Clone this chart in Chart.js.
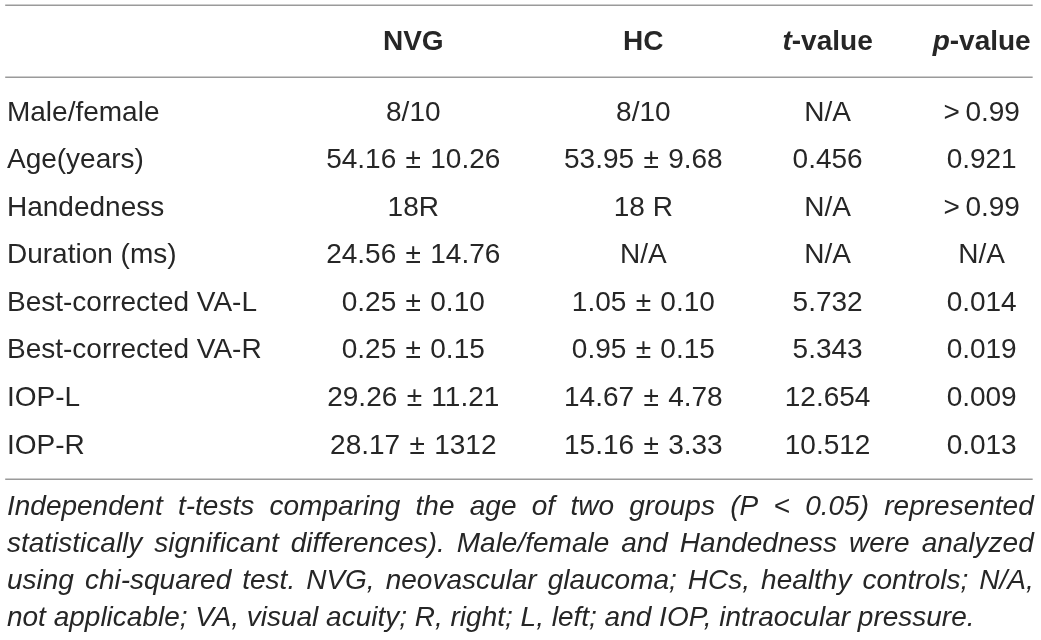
<!DOCTYPE html>
<html>
<head>
<meta charset="utf-8">
<script src="https://cdn.jsdelivr.net/npm/chart.js@4/dist/chart.umd.min.js"></script>
<style>
  html, body { margin: 0; padding: 0; background: #fff; }
  canvas { display: block; }
</style>
</head>
<body>
<canvas id="tableChart" width="1041" height="640"></canvas>
<script>
// table content
const headers = ['', 'NVG', 'HC', 't-value', 'p-value'];
const rowLabels = [
    'Male/female',
    'Age(years)',
    'Handedness',
    'Duration (ms)',
    'Best-corrected VA-L',
    'Best-corrected VA-R',
    'IOP-L',
    'IOP-R'
];
const nvgValues = ['8/10', '54.16 \u00B1 10.26', '18R', '24.56 \u00B1 14.76', '0.25 \u00B1 0.10', '0.25 \u00B1 0.15', '29.26 \u00B1 11.21', '28.17 \u00B1 1312'];
const hcValues = ['8/10', '53.95 \u00B1 9.68', '18 R', 'N/A', '1.05 \u00B1 0.10', '0.95 \u00B1 0.15', '14.67 \u00B1 4.78', '15.16 \u00B1 3.33'];
const tValues = ['N/A', '0.456', 'N/A', 'N/A', '5.732', '5.343', '12.654', '10.512'];
const pValues = ['>0.99', '0.921', '>0.99', 'N/A', '0.014', '0.019', '0.009', '0.013'];
const footnoteLines = [
    'Independent t-tests comparing the age of two groups (P < 0.05) represented',
    'statistically significant differences). Male/female and Handedness were analyzed',
    'using chi-squared test. NVG, neovascular glaucoma; HCs, healthy controls; N/A,',
    'not applicable; VA, visual acuity; R, right; L, left; and IOP, intraocular pressure.'
];

// layout (scale units)
const colX = [0.0067, 0.397, 0.618, 0.795, 0.943];
const colAlign = ['left', 'center', 'center', 'center', 'center'];
const headerY = -1.48;
const ruleY = [-2.265, -0.763, 7.697];
const footY = 8.29, footStep = 0.778;
const FONT = '"Liberation Sans", Arial, Helvetica, sans-serif';
const TEXT = '#262626';

const columns = [rowLabels, nvgValues, hcValues, tValues, pValues];

const datasets = columns.map(function (col, c) {
    return {
        label: headers[c] || 'label',
        texts: col,
        align: colAlign[c],
        data: col.map(function (v, r) { return {x: colX[c], y: r}; }),
        pointRadius: 0,
        pointHoverRadius: 0
    };
});

// math-style spacing around operators
function typeset(s) {
    return s.replace(' \u00B1 ', '\u2004\u00B1\u2004').replace(/^>/, '>\u2009');
}

function drawJustified(ctx, text, xL, xR, y, justify) {
    const words = text.split(' ');
    ctx.textAlign = 'left';
    if (!justify) {
        ctx.fillText(text, xL, y);
        return;
    }
    let sum = 0;
    words.forEach(function (w) { sum += ctx.measureText(w).width; });
    const gap = (xR - xL - sum) / (words.length - 1);
    let x = xL;
    words.forEach(function (w) {
        ctx.fillText(w, x, y);
        x += ctx.measureText(w).width + gap;
    });
}

const tablePlugin = {
    id: 'tableText',
    afterDatasetsDraw(chart) {
        const ctx = chart.ctx;
        const xs = chart.scales.x, ys = chart.scales.y;
        ctx.save();

        // rules
        ctx.strokeStyle = '#9a9a9a';
        ctx.lineWidth = 1.5;
        ruleY.forEach(function (v) {
            const py = Math.round(ys.getPixelForValue(v)) + 0.25;
            ctx.beginPath();
            ctx.moveTo(xs.getPixelForValue(0.005), py);
            ctx.lineTo(xs.getPixelForValue(0.992), py);
            ctx.stroke();
        });

        ctx.fillStyle = TEXT;
        ctx.textBaseline = 'middle';

        // header
        const hy = ys.getPixelForValue(headerY);
        headers.forEach(function (h, c) {
            if (!h) return;
            const cx = xs.getPixelForValue(colX[c]);
            const m = h.match(/^([a-z])(-.*)$/);
            if (m) {
                ctx.font = 'italic bold 28px ' + FONT;
                const w1 = ctx.measureText(m[1]).width;
                ctx.font = 'bold 28px ' + FONT;
                const w2 = ctx.measureText(m[2]).width;
                const x0 = cx - (w1 + w2) / 2;
                ctx.textAlign = 'left';
                ctx.font = 'italic bold 28px ' + FONT;
                ctx.fillText(m[1], x0, hy);
                ctx.font = 'bold 28px ' + FONT;
                ctx.fillText(m[2], x0 + w1, hy);
            } else {
                ctx.font = 'bold 28px ' + FONT;
                ctx.textAlign = 'center';
                ctx.fillText(h, cx, hy);
            }
        });

        // cells
        ctx.font = '28px ' + FONT;
        chart.data.datasets.forEach(function (ds, i) {
            const meta = chart.getDatasetMeta(i);
            ctx.textAlign = ds.align;
            meta.data.forEach(function (pt, j) {
                ctx.fillText(typeset(ds.texts[j]), pt.x, pt.y);
            });
        });

        // footnote
        ctx.font = 'italic 28px ' + FONT;
        const fl = xs.getPixelForValue(colX[0]);
        const fr = xs.getPixelForValue(0.993);
        footnoteLines.forEach(function (line, k) {
            const py = ys.getPixelForValue(footY + k * footStep);
            drawJustified(ctx, line, fl, fr, py, k < footnoteLines.length - 1);
        });

        ctx.restore();
    }
};

new Chart(document.getElementById('tableChart').getContext('2d'), {
    type: 'scatter',
    data: {datasets: datasets},
    options: {
        responsive: false,
        animation: false,
        events: [],
        layout: {padding: 0},
        plugins: {
            legend: {display: false},
            tooltip: {enabled: false}
        },
        scales: {
            x: {type: 'linear', display: false, min: 0, max: 1},
            y: {type: 'linear', display: false, reverse: true, min: -2.3765, max: 11.083}
        }
    },
    plugins: [tablePlugin]
});
</script>
</body>
</html>
